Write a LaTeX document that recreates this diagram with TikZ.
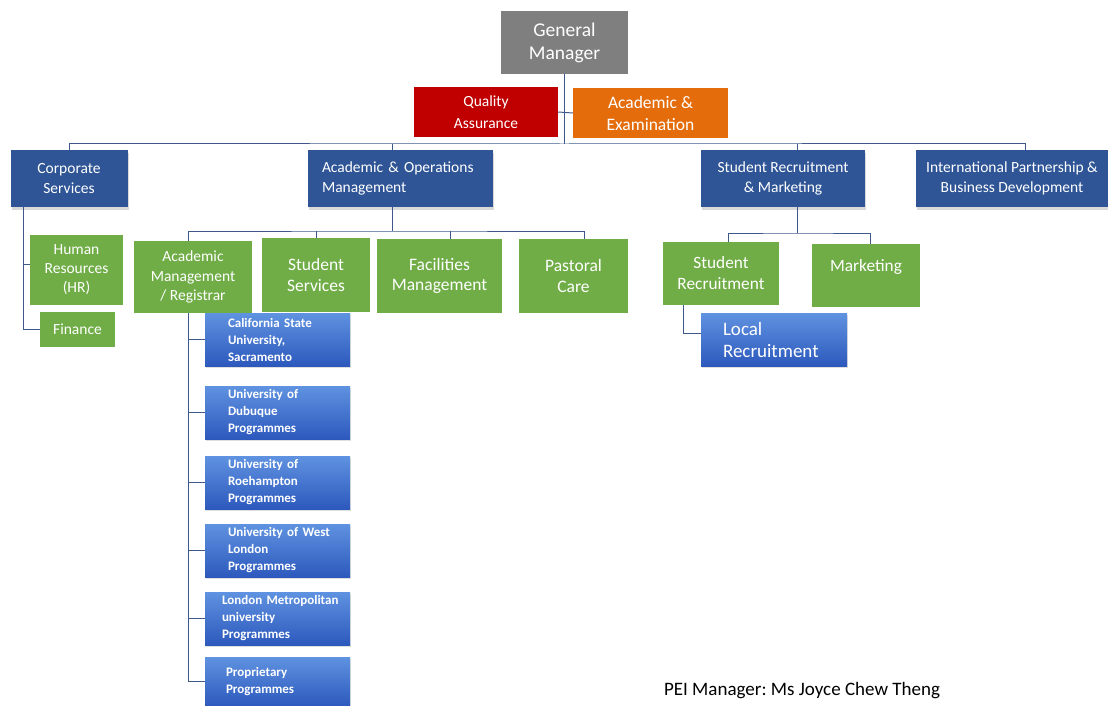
\documentclass[tikz,border=0pt]{standalone}
\usepackage{fontspec}
\setmainfont{Carlito}
\usetikzlibrary{shadows}
\definecolor{gmgray}{HTML}{7F7F7F}
\definecolor{qared}{HTML}{C00000}
\definecolor{aeorange}{HTML}{E46C0A}
\definecolor{navy}{HTML}{2F5597}
\definecolor{leaf}{HTML}{70AD47}
\definecolor{progtop}{HTML}{5F92E0}
\definecolor{progbot}{HTML}{2D59BD}
\definecolor{wire}{HTML}{3F5A8A}
\begin{document}
\begin{tikzpicture}[x=1pt,y=-1pt,
	box/.style={inner sep=0pt,text=white,align=center},
	gry/.style={box,fill=gmgray,font=\fontsize{19.5}{23}\selectfont},
	red/.style={box,fill=qared,font=\fontsize{15.5}{22}\selectfont},
	org/.style={box,fill=aeorange,font=\fontsize{17.5}{22}\selectfont},
	nav/.style={box,fill=navy,minimum height=57pt,font=\fontsize{15.5}{20}\selectfont,
		drop shadow={opacity=0.3,shadow xshift=1pt,shadow yshift=-3pt}},
	grn/.style={box,fill=leaf,font=\fontsize{17.5}{20.5}\selectfont},
	prg/.style={box,top color=progtop,bottom color=progbot,minimum width=145pt,minimum height=53pt,
		text width=99pt,align=left,font=\fontsize{13}{17}\selectfont\bfseries,
		drop shadow={opacity=0.25,shadow xshift=1pt,shadow yshift=-2pt}},
	conn/.style={draw=wire,line width=1pt}]
	\useasboundingbox (0,0) rectangle (1108,706);
	\node [gry, minimum width=127pt, minimum height=63pt] (gm) at (564.5,42.5) {General\\Manager};
	\node [red, minimum width=144pt, minimum height=50pt] (qa) at (486,112) {Quality\\Assurance};
	\node [org, minimum width=155pt, minimum height=50pt] (ae) at (650.5,113) {Academic \&\\Examination};
	\node [nav, minimum width=117pt] (cs) at (69,178.5) {Corporate\\Services};
	\node [nav, minimum width=185pt, text width=157pt, align=left] (aom) at (400.5,178.5) {Academic \& Operations\\Management};
	\node [nav, minimum width=164pt] (srm) at (783,178.5) {Student Recruitment\\\& Marketing};
	\node [nav, minimum width=192pt] (ipbd) at (1012,178.5) {International Partnership \&\\Business Development};
	\node [grn, minimum width=93pt, minimum height=70pt, font=\fontsize{15.5}{19}\selectfont] (hr) at (76.5,270) {Human\\Resources\\(HR)};
	\node [grn, minimum width=75pt, minimum height=35pt, font=\fontsize{15.5}{19}\selectfont] (fin) at (77.5,329.5) {Finance};
	\node [grn, minimum width=118pt, minimum height=72pt, font=\fontsize{15.5}{19.5}\selectfont] (amr) at (193,277) {Academic\\Management\\/ Registrar};
	\node [grn, minimum width=108pt, minimum height=74pt] (ss) at (316,275) {Student\\Services};
	\node [grn, minimum width=125pt, minimum height=74pt] (fm) at (439.5,276) {Facilities\\Management};
	\node [grn, minimum width=109pt, minimum height=74pt] (pc) at (573.5,276) {Pastoral\\Care};
	\node [grn, minimum width=116pt, minimum height=63pt, font=\fontsize{17.3}{21}\selectfont] (sr) at (721,273.5) {Student\\Recruitment};
	\node [grn, minimum width=108pt, minimum height=63pt, font=\fontsize{17.3}{21}\selectfont] (mkt) at (866,275.5) {Marketing\\\mbox{}};
	\node [prg] (p1) at (277.5,339.5) {\mbox{California State}\\University,\\Sacramento};
	\node [prg] (p2) at (277.5,412.5) {University of\\Dubuque\\Programmes};
	\node [prg] (p3) at (277.5,482.5) {University of\\Roehampton\\Programmes};
	\node [prg] (p4) at (277.5,550.5) {\mbox{University of West}\\London\\Programmes};
	\node [prg, text width=111pt] (p5) at (277.5,618.5) {\mbox{London Metropolitan}\\university\\Programmes};
	\node [prg, minimum height=49pt, text width=103pt] (p6) at (277.5,681.5) {Proprietary\\Programmes};
	\node [prg, minimum width=146pt, text width=102pt, font=\fontsize{19}{22}\selectfont] (lr) at (774,339.5) {Local\\Recruitment};
	\node [font=\fontsize{19}{22}\selectfont\frenchspacing] (pei) at (802,691) {PEI Manager: Ms Joyce Chew Theng};
	\coordinate (top) at (564.5,144);
	\coordinate (aomlvl) at (392,231);
	\coordinate (srmlvl) at (797,233);
	\coordinate (csrail) at (23,207);
	\coordinate (amrrail) at (188,313);
	\coordinate (srrail) at (683,305);
	\draw [conn] (gm.south) -- (top);
	\draw [conn] (qa.east) -- (ae.west);
	\draw [conn] (cs.north) |- (top) -| ([xshift=13pt]ipbd.north);
	\draw [conn] ([xshift=-8.5pt]aom.north) -- ([xshift=-8.5pt]aom.north |- top);
	\draw [conn] ([xshift=14pt]srm.north) -- ([xshift=14pt]srm.north |- top);
	\draw [conn] (csrail) |- (fin.west);
	\draw [conn] ([yshift=6pt]hr.west -| csrail) -- ([yshift=6pt]hr.west);
	\draw [conn] (aomlvl |- aom.south) -- (aomlvl);
	\draw [conn] ([xshift=-5pt]amr.north) |- (aomlvl) -| ([xshift=10.5pt]pc.north);
	\draw [conn] (ss.north) -- (ss.north |- aomlvl);
	\draw [conn] ([xshift=10.5pt]fm.north) -- ([xshift=10.5pt]fm.north |- aomlvl);
	\draw [conn] (amrrail) |- (p6.west);
	\foreach \i in {1,...,5}
		\draw [conn] (p\i.west) -- (p\i.west -| amrrail);
	\draw [conn] (srmlvl |- srm.south) -- (srmlvl);
	\draw [conn] ([xshift=7pt]sr.north) |- (srmlvl) -| ([xshift=4pt]mkt.north);
	\draw [conn] (srrail) |- ([yshift=6pt]lr.west);
\end{tikzpicture}
\end{document}
